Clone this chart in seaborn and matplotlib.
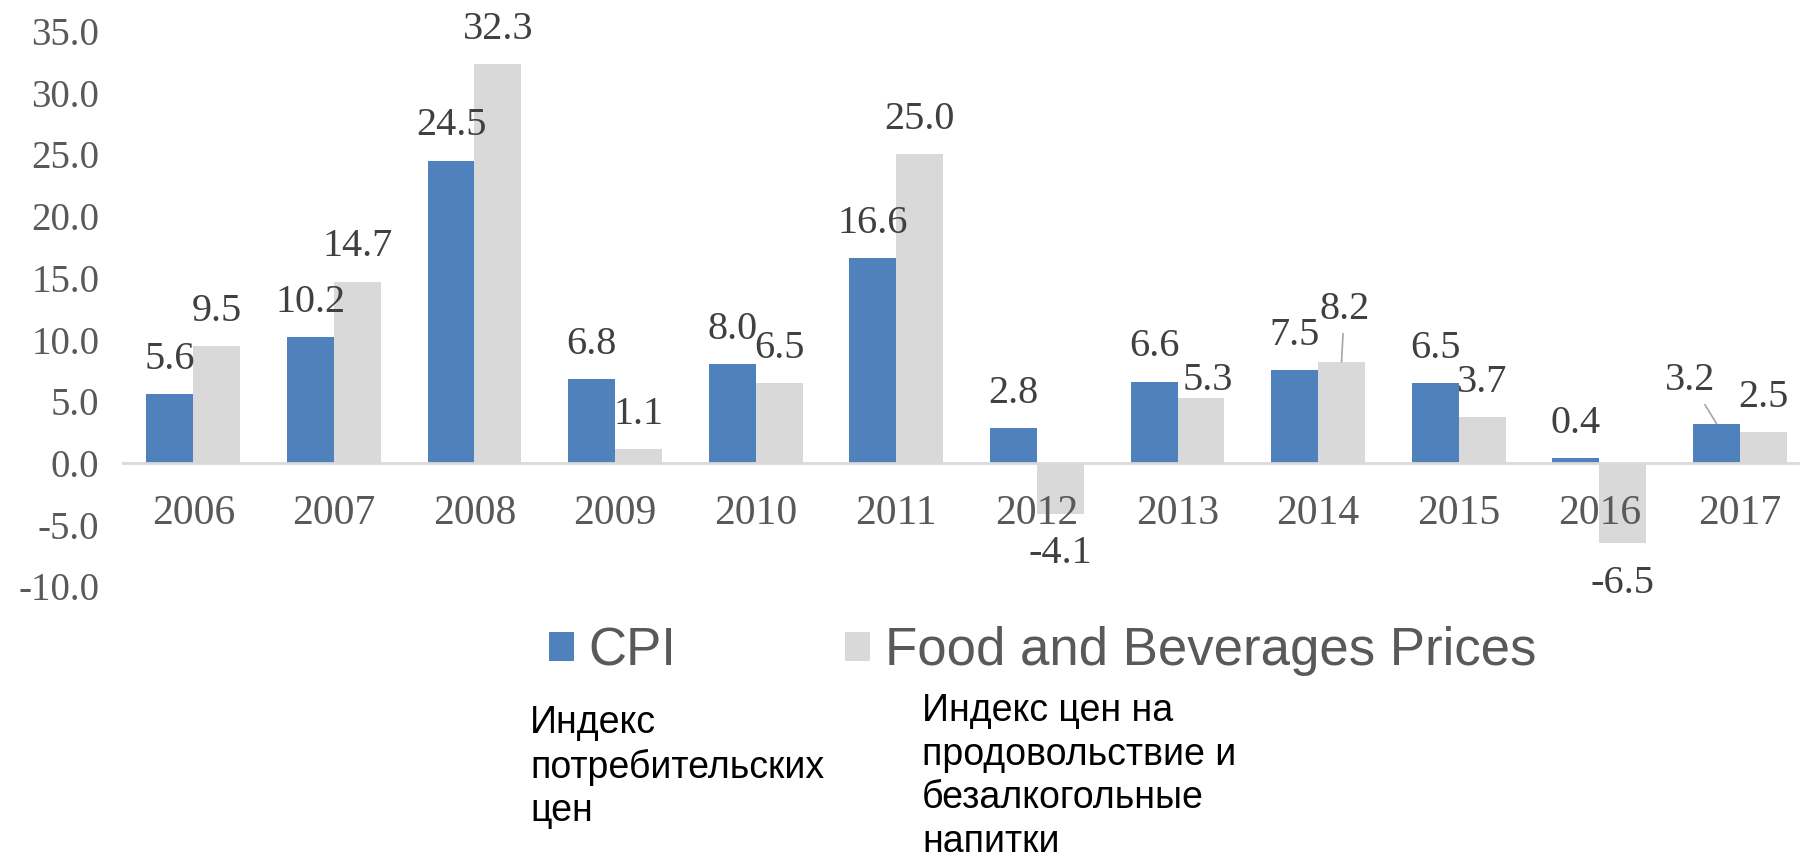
import matplotlib
matplotlib.use("Agg")
import matplotlib.pyplot as plt
import matplotlib.ticker as mticker
import seaborn as sns
import pandas as pd

# ---- data ----
years = ["2006", "2007", "2008", "2009", "2010", "2011",
         "2012", "2013", "2014", "2015", "2016", "2017"]
cpi = [5.6, 10.2, 24.5, 6.8, 8.0, 16.6, 2.8, 6.6, 7.5, 6.5, 0.4, 3.2]
food = [9.5, 14.7, 32.3, 1.1, 6.5, 25.0, -4.1, 5.3, 8.2, 3.7, -6.5, 2.5]
series_names = ["CPI", "Food and Beverages Prices"]
y_ticks = [-10, -5, 0, 5, 10, 15, 20, 25, 30, 35]
ru_notes = ["Индекс\nпотребительских\nцен",
            "Индекс цен на\nпродовольствие и\nбезалкогольные\nнапитки"]

colors = {"CPI": "#4F81BD", "Food and Beverages Prices": "#D9D9D9"}

df = pd.DataFrame({
    "year": years * 2,
    "series": [series_names[0]] * len(years) + [series_names[1]] * len(years),
    "value": cpi + food,
})

sns.set_theme(style="white")
plt.rcParams["font.family"] = ["Liberation Serif", "DejaVu Serif"]

W, H = 1800, 858
fig = plt.figure(figsize=(W / 100, H / 100), dpi=100)
ax_left, ax_top, ax_bottom = 123, 31, 586.5
ax = fig.add_axes([ax_left / W, 1 - ax_bottom / H, 1 - ax_left / W, (ax_bottom - ax_top) / H])

sns.barplot(data=df, x="year", y="value", hue="series", hue_order=series_names,
            order=years, palette=colors, width=2 / 3, gap=0, linewidth=0,
            saturation=1, ax=ax, legend=True, err_kws={"linewidth": 0})

handles, labels = ax.get_legend_handles_labels()
if ax.get_legend() is not None:
    ax.get_legend().remove()

ax.set_ylim(-10, 35)
cat_px = 140.6
ax.set_xlim(-0.5, -0.5 + (W - ax_left) / cat_px)
ax.set_yticks(y_ticks)
ax.yaxis.set_major_formatter(mticker.FuncFormatter(lambda v, p: f"{v:.1f}"))
ax.set_xlabel("")
ax.set_ylabel("")
ax.grid(False)
for s in ["top", "right", "left"]:
    ax.spines[s].set_visible(False)
ax.spines["bottom"].set_position(("data", 0))
ax.spines["bottom"].set_color("#D9D9D9")
ax.spines["bottom"].set_linewidth(2)
ax.tick_params(axis="x", length=0, pad=23, labelsize=30, labelcolor="#595959")
ax.tick_params(axis="y", length=0, pad=17, labelsize=28, labelcolor="#595959")
ax.xaxis.set_zorder(6)
ax.set_axisbelow(False)

# ---- data labels ----
std_up, std_down = 25, 29
special = {
    ("Food and Beverages Prices", "2013"): (5, 12, False),
    ("Food and Beverages Prices", "2014"): (2, 38, True),
    ("CPI", "2017"): (-19, 31, True),
}
for cont, name, vals in zip(ax.containers, series_names, [cpi, food]):
    for bar, yr, v in zip(cont.patches, years, vals):
        xc = bar.get_x() + bar.get_width() / 2
        dx, dy, leader = special.get((name, yr), (0, std_up if v >= 0 else -std_down, False))
        kw = {}
        if leader:
            kw["arrowprops"] = dict(arrowstyle="-", color="#A6A6A6", lw=1.2,
                                    shrinkA=2, shrinkB=0)
        ax.annotate(f"{v:.1f}", xy=(xc, v), xytext=(dx, dy),
                    textcoords="offset points", ha="center", va="center",
                    fontsize=29, color="#404040", zorder=7, **kw)

# ---- legend ----
leg = fig.legend(handles, labels, loc="center left",
                 bbox_to_anchor=(549 / W, 1 - 651 / H), ncol=2, frameon=False,
                 prop={"family": ["Liberation Sans", "DejaVu Sans"], "size": 38},
                 handlelength=0.47, handleheight=0.47, handletextpad=0.28,
                 columnspacing=3.2, borderpad=0, borderaxespad=0,
                 labelcolor="#595959")

# ---- Russian notes ----
ru_family = ["Liberation Sans", "DejaVu Sans"]
fig.text(530 / W, 1 - 705 / H, ru_notes[0], ha="left", va="top", fontsize=27,
         color="black", family=ru_family, linespacing=1.27)
fig.text(922 / W, 1 - 693 / H, ru_notes[1], ha="left", va="top", fontsize=27,
         color="black", family=ru_family, linespacing=1.27)

fig.savefig("out.png", dpi=100)
